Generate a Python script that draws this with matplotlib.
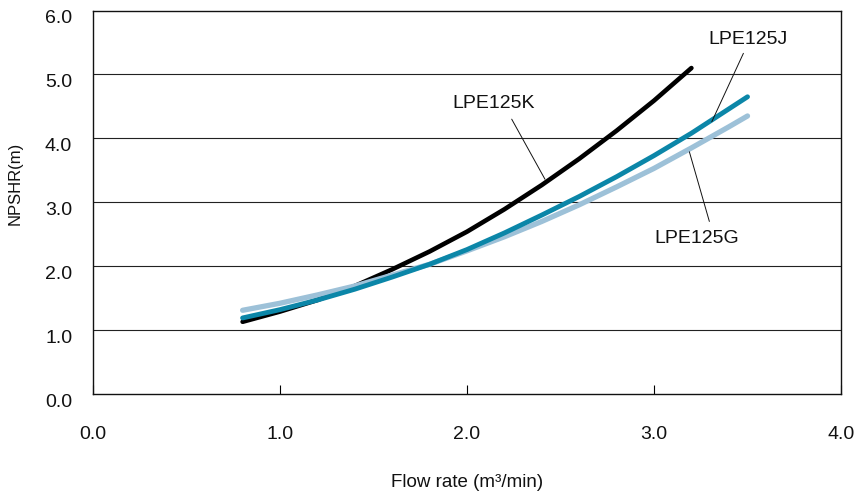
import matplotlib
matplotlib.use("Agg")
import matplotlib.pyplot as plt
from matplotlib.transforms import ScaledTranslation

plt.rcParams['font.family'] = ['Liberation Sans', 'DejaVu Sans']

# Data
flow_k = [0.8, 1.0, 1.2, 1.4, 1.6, 1.8, 2.0, 2.2, 2.4, 2.6, 2.8, 3.0, 3.2]
npshr_k = [1.13, 1.29, 1.47, 1.69, 1.95, 2.23, 2.54, 2.89, 3.27, 3.68, 4.12, 4.59, 5.10]

flow_j = [0.8, 1.0, 1.2, 1.4, 1.6, 1.8, 2.0, 2.2, 2.4, 2.6, 2.8, 3.0, 3.2, 3.4, 3.5]
npshr_j = [1.19, 1.32, 1.47, 1.64, 1.83, 2.03, 2.26, 2.52, 2.80, 3.09, 3.40, 3.73, 4.08, 4.46, 4.65]

flow_g = [0.8, 1.0, 1.2, 1.4, 1.6, 1.8, 2.0, 2.2, 2.4, 2.6, 2.8, 3.0, 3.2, 3.4, 3.5]
npshr_g = [1.31, 1.42, 1.55, 1.69, 1.86, 2.03, 2.24, 2.46, 2.70, 2.96, 3.24, 3.53, 3.85, 4.18, 4.35]

x_ticks = [0, 1, 2, 3, 4]
x_tick_labels = ["0.0", "1.0", "2.0", "3.0", "4.0"]
y_ticks = [0, 1, 2, 3, 4, 5, 6]
y_tick_labels = ["0.0", "1.0", "2.0", "3.0", "4.0", "5.0", "6.0"]

series_names = ["LPE125K", "LPE125J", "LPE125G"]

fig = plt.figure(figsize=(8.58, 4.98), dpi=100)
ax = fig.add_axes([0.1084, 0.2088, 0.8718, 0.7701])

ax.set_xlim(0, 4)
ax.set_ylim(0, 6)

# gridlines
for y in y_ticks[1:-1]:
    ax.axhline(y, color='#222222', lw=0.8, zorder=1)

ax.plot(flow_k, npshr_k, color='#000000', lw=3.3, solid_capstyle='round', zorder=3)
ax.plot(flow_g, npshr_g, color='#9dc1d8', lw=3.8, solid_capstyle='round', zorder=4)
ax.plot(flow_j, npshr_j, color='#0b86a8', lw=3.5, solid_capstyle='round', zorder=5)

# annotations
lead = dict(arrowstyle='-', lw=0.7, color='#111111', shrinkA=0, shrinkB=0)
ax.annotate('', xy=(2.417, 3.36), xytext=(2.239, 4.30), arrowprops=lead, zorder=6)
ax.text(2.144, 4.546, series_names[0], ha='center', va='center', fontsize=14, color='#111111')
ax.annotate('', xy=(3.309, 4.26), xytext=(3.478, 5.33), arrowprops=lead, zorder=6)
ax.text(3.50, 5.54, series_names[1], ha='center', va='center', fontsize=14, color='#111111')
ax.annotate('', xy=(3.189, 3.79), xytext=(3.296, 2.70), arrowprops=lead, zorder=6)
ax.text(3.23, 2.43, series_names[2], ha='center', va='center', fontsize=14, color='#111111')

ax.set_xticks(x_ticks)
ax.set_xticklabels(x_tick_labels, fontsize=14, color='#111111')
ax.set_yticks(y_ticks)
ax.set_yticklabels(y_tick_labels, fontsize=14, color='#111111')

ax.tick_params(axis='x', direction='in', length=6.5, width=0.8, pad=23)
ax.tick_params(axis='y', length=0, pad=15)

off = ScaledTranslation(0, -0.06, fig.dpi_scale_trans)
for lab in ax.get_yticklabels():
    lab.set_transform(lab.get_transform() + off)

for s in ax.spines.values():
    s.set_linewidth(1.0)
    s.set_color('#111111')

ax.set_xlabel("Flow rate (m³/min)", fontsize=13.5, labelpad=22, color='#111111')
ax.set_ylabel("NPSHR(m)", fontsize=12, color='#111111')
ax.yaxis.set_label_coords(-0.094, 0.549)

fig.savefig("out.png", dpi=100)
